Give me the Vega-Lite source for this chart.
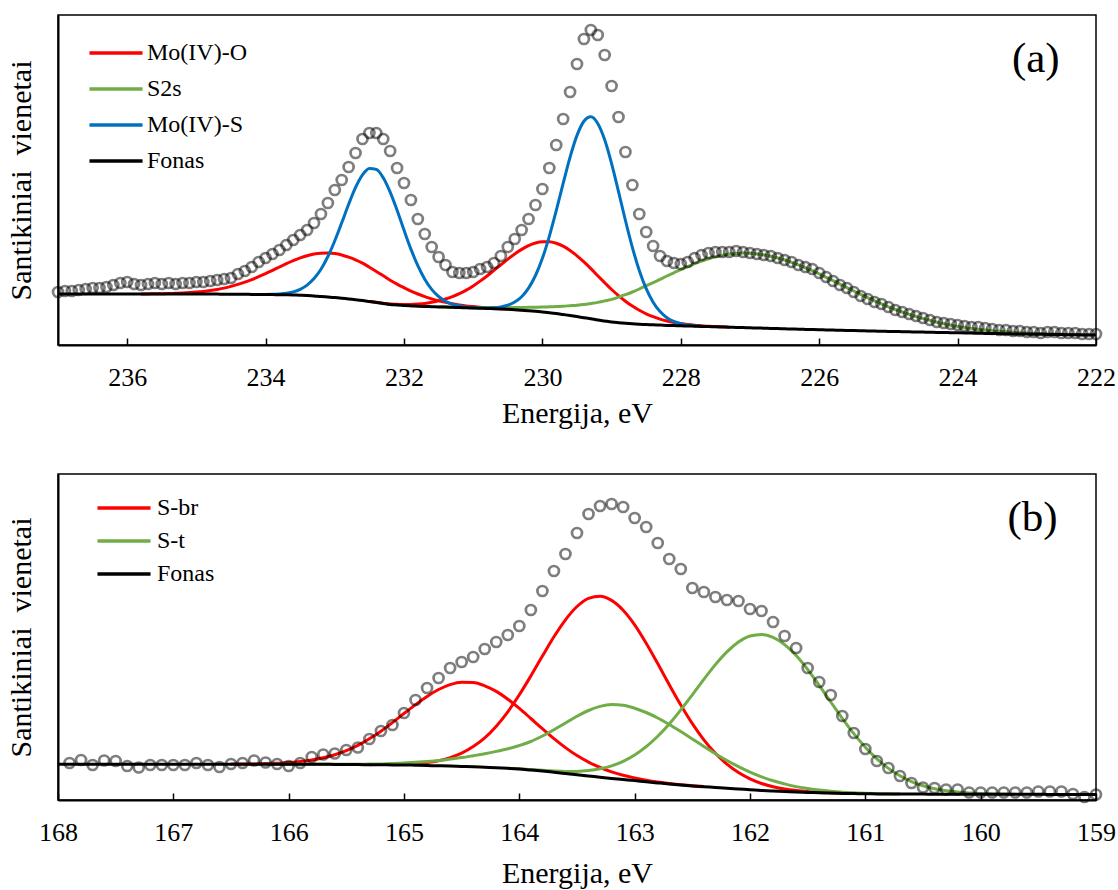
{
"$schema": "https://vega.github.io/schema/vega-lite/v6.json",
"background": "white",
"padding": {"left": 5, "top": 14, "right": 2, "bottom": 2},
"spacing": 44,
"config": {
  "font": "Liberation Serif",
  "view": {"stroke": "black", "strokeWidth": 1.5},
  "axis": {"grid": false, "labelFont": "Liberation Serif", "titleFont": "Liberation Serif", "labelColor": "black", "titleColor": "black", "titleFontWeight": "normal", "domainColor": "black", "tickColor": "black"},
  "axisX": {"labelFont": "Liberation Serif", "titleFont": "Liberation Serif", "tickSize": -7, "tickWidth": 1.5, "domainWidth": 2, "labelFontSize": 26, "labelPadding": 26, "labelFlush": false, "labelOverlap": false, "labelBound": false, "titleFontSize": 30, "titlePadding": 8, "format": "d"},
  "axisY": {"titleFont": "Liberation Serif", "labels": false, "ticks": false, "domainWidth": 2, "titleFontSize": 30, "titlePadding": 22},
  "legend": {"orient": "none", "title": null, "symbolType": "M-4,0H4", "symbolSize": 176, "symbolStrokeWidth": 3.5, "labelFont": "Liberation Serif", "labelFontSize": 24, "labelColor": "black", "padding": 0}
},
"resolve": {"scale": {"color": "independent"}, "legend": {"color": "independent"}},
"vconcat": [
{
  "width": 1038, "height": 330,
  "data": {"values": [
{"E":237,"d":53,"k":51},
{"E":236.9,"d":54,"k":51},
{"E":236.8,"d":54,"k":51},
{"E":236.7,"d":55,"k":51},
{"E":236.6,"d":56,"k":51},
{"E":236.5,"d":57,"k":51},
{"E":236.4,"d":57,"k":51},
{"E":236.3,"d":58,"k":51},
{"E":236.2,"d":60,"k":51},
{"E":236.1,"d":62,"k":51},
{"E":236,"d":63,"k":51},
{"E":235.9,"d":61,"k":51},
{"E":235.8,"d":60,"k":51,"r1":51},
{"E":235.7,"d":61,"k":51,"r1":51.1},
{"E":235.6,"d":62,"k":51,"r1":51.2},
{"E":235.5,"d":61,"k":51,"r1":51.3},
{"E":235.4,"d":62,"k":51,"r1":51.5},
{"E":235.3,"d":61,"k":51,"r1":51.7},
{"E":235.2,"d":62,"k":51,"r1":52},
{"E":235.1,"d":62,"k":51,"r1":52.4},
{"E":235,"d":63,"k":51,"r1":52.9},
{"E":234.9,"d":63,"k":51,"r1":53.6},
{"E":234.8,"d":64,"k":50.9,"r1":54.5},
{"E":234.7,"d":65,"k":50.9,"r1":55.6},
{"E":234.6,"d":66,"k":50.8,"r1":56.9},
{"E":234.5,"d":67,"k":50.8,"r1":58.6},
{"E":234.4,"d":71,"k":50.7,"r1":60.6},
{"E":234.3,"d":74,"k":50.7,"r1":62.9},
{"E":234.2,"d":78,"k":50.6,"r1":65.4},
{"E":234.1,"d":83,"k":50.6,"r1":68.4},
{"E":234,"d":87,"k":50.5,"r1":71.4,"b1":50.6},
{"E":233.9,"d":91,"k":50.4,"r1":74.7,"b1":50.7},
{"E":233.8,"d":95,"k":50.3,"r1":78,"b1":51.1},
{"E":233.7,"d":100,"k":50.2,"r1":81.3,"b1":51.8},
{"E":233.6,"d":105,"k":50,"r1":84.3,"b1":53.1},
{"E":233.5,"d":110,"k":49.8,"r1":87.1,"b1":55.7},
{"E":233.4,"d":115,"k":49.5,"r1":89.3,"b1":59.9},
{"E":233.3,"d":122,"k":49.1,"r1":90.9,"b1":66.4},
{"E":233.2,"d":131,"k":48.5,"r1":91.7,"b1":75.7},
{"E":233.1,"d":142,"k":48,"r1":91.9,"b1":88.5},
{"E":233,"d":155,"k":47.5,"r1":91.4,"b1":104.3},
{"E":232.9,"d":165,"k":46.8,"r1":90,"b1":122.2},
{"E":232.8,"d":178,"k":46,"r1":87.8,"b1":140.7},
{"E":232.7,"d":192,"k":45.3,"r1":85.1,"b1":157.6},
{"E":232.6,"d":206,"k":44.5,"r1":81.8,"b1":170.2},
{"E":232.5,"d":212,"k":43.5,"r1":77.8,"b1":176.6,"r2":43.6},
{"E":232.4,"d":212,"k":42.5,"r1":73.6,"b1":175.6,"r2":42.7},
{"E":232.3,"d":206,"k":41.5,"r1":69.2,"b1":167.2,"r2":41.8},
{"E":232.2,"d":194,"k":40.5,"r1":64.8,"b1":152.8,"r2":40.9},
{"E":232.1,"d":177,"k":40,"r1":60.9,"b1":134.7,"r2":40.7},
{"E":232,"d":162,"k":39.5,"r1":57.3,"b1":114.9,"r2":40.5},
{"E":231.9,"d":145,"k":39.1,"r1":53.9,"b1":95.9,"r2":40.6},
{"E":231.8,"d":126,"k":38.8,"r1":51,"b1":79.3,"r2":41},
{"E":231.7,"d":111,"k":38.5,"r1":48.4,"b1":65.7,"r2":41.6},
{"E":231.6,"d":98,"k":38.3,"r1":46.1,"b1":55.6,"r2":42.7},
{"E":231.5,"d":88,"k":38.1,"r1":44.2,"b1":48.5,"r2":44.1,"g":38.2},
{"E":231.4,"d":80,"k":37.9,"r1":42.6,"b1":43.8,"r2":46,"g":38.1},
{"E":231.3,"d":73,"k":37.7,"r1":41.3,"b1":40.8,"r2":48.4,"g":37.9},
{"E":231.2,"d":72,"k":37.5,"r1":40.1,"b1":39.1,"r2":51.4,"g":37.8},
{"E":231.1,"d":72,"k":37.2,"r1":39.1,"b1":38,"r2":54.9,"g":37.6},
{"E":231,"d":73,"k":37,"r1":38.4,"b1":37.3,"r2":59.1,"g":37.5},
{"E":230.9,"d":76,"k":36.8,"r1":37.8,"b1":36.9,"r2":63.9,"g":37.5,"b2":37},
{"E":230.8,"d":78,"k":36.5,"r1":37.2,"r2":69,"g":37.4,"b2":37},
{"E":230.7,"d":82,"k":36.3,"r1":36.8,"r2":74.6,"g":37.5,"b2":37.3},
{"E":230.6,"d":89,"k":36,"r1":36.3,"r2":80.2,"g":37.5,"b2":38.1},
{"E":230.5,"d":98,"k":35.7,"r1":35.9,"r2":85.9,"g":37.5,"b2":39.8},
{"E":230.4,"d":106,"k":35.3,"r1":35.4,"r2":91.1,"g":37.5,"b2":43},
{"E":230.3,"d":115,"k":34.8,"r2":95.6,"g":37.5,"b2":48.3},
{"E":230.2,"d":126,"k":34.3,"r2":99.4,"g":37.7,"b2":56.9},
{"E":230.1,"d":140,"k":33.7,"r2":102,"g":37.8,"b2":69.5},
{"E":230,"d":156,"k":33,"r2":103.3,"g":37.9,"b2":86.7},
{"E":229.9,"d":177,"k":32.3,"r2":103.3,"g":38.2,"b2":108.7},
{"E":229.8,"d":200,"k":31.5,"r2":101.8,"g":38.5,"b2":134.3},
{"E":229.7,"d":226,"k":30.5,"r2":98.8,"g":38.8,"b2":161.6},
{"E":229.6,"d":253,"k":29.5,"r2":94.6,"g":39.3,"b2":187.9},
{"E":229.5,"d":281,"k":28.4,"r2":89.2,"g":39.8,"b2":209.6},
{"E":229.4,"d":306,"k":27.3,"r2":83.1,"g":40.5,"b2":223.8},
{"E":229.3,"d":315,"k":26.2,"r2":76.4,"g":41.5,"b2":228.2},
{"E":229.2,"d":310,"k":25,"r2":69.2,"g":42.6,"b2":221.5},
{"E":229.1,"d":290,"k":24,"r2":62.3,"g":44.1,"b2":205.2},
{"E":229,"d":259,"k":23,"r2":55.5,"g":45.6,"b2":181.4},
{"E":228.9,"d":228,"k":22.3,"r2":49.4,"g":47.9,"b2":153.4},
{"E":228.8,"d":193,"k":21.7,"r2":43.8,"g":50.3,"b2":124.5},
{"E":228.7,"d":160,"k":21.2,"r2":38.9,"g":53,"b2":97.6},
{"E":228.6,"d":131,"k":20.8,"r2":34.7,"g":56,"b2":74.5},
{"E":228.5,"d":113,"k":20.5,"r2":31.2,"g":59.2,"b2":56.3},
{"E":228.4,"d":99,"k":20.2,"r2":28.3,"g":62.3,"b2":42.8},
{"E":228.3,"d":89,"k":19.9,"r2":25.9,"g":65.6,"b2":33.4},
{"E":228.2,"d":84,"k":19.6,"r2":24,"g":69,"b2":27.3},
{"E":228.1,"d":82,"k":19.4,"r2":22.5,"g":72.2,"b2":23.5},
{"E":228,"d":81,"k":19.2,"r2":21.4,"g":75.4,"b2":21.3},
{"E":227.9,"d":83,"k":19,"r2":20.5,"g":78.4,"b2":20},
{"E":227.8,"d":87,"k":18.8,"r2":19.8,"g":81.3,"b2":19.3},
{"E":227.7,"d":90,"k":18.6,"r2":19.3,"g":83.9,"b2":18.8},
{"E":227.6,"d":92,"k":18.4,"r2":18.8,"g":86.2},
{"E":227.5,"d":93,"k":18.2,"r2":18.5,"g":88.1},
{"E":227.4,"d":93,"k":18,"r2":18.2,"g":89.7},
{"E":227.3,"d":93,"k":17.8,"r2":17.8,"g":90.9},
{"E":227.2,"d":94,"k":17.6,"g":91.6},
{"E":227.1,"d":93,"k":17.4,"g":91.9},
{"E":227,"d":92,"k":17.2,"g":91.7},
{"E":226.9,"d":91,"k":17,"g":91.1},
{"E":226.8,"d":90,"k":16.8,"g":90.1},
{"E":226.7,"d":89,"k":16.6,"g":88.7},
{"E":226.6,"d":87,"k":16.4,"g":87},
{"E":226.5,"d":85,"k":16.2,"g":85},
{"E":226.4,"d":83,"k":16,"g":82.7},
{"E":226.3,"d":80,"k":15.8,"g":80.1},
{"E":226.2,"d":78,"k":15.6,"g":77.2},
{"E":226.1,"d":76,"k":15.5,"g":74.3},
{"E":226,"d":72,"k":15.3,"g":71.1},
{"E":225.9,"d":68,"k":15.1,"g":67.7},
{"E":225.8,"d":64,"k":14.9,"g":64.3},
{"E":225.7,"d":60,"k":14.8,"g":60.8},
{"E":225.6,"d":57,"k":14.6,"g":57.4},
{"E":225.5,"d":53,"k":14.4,"g":54},
{"E":225.4,"d":49,"k":14.2,"g":50.6},
{"E":225.3,"d":46,"k":14.1,"g":47.4},
{"E":225.2,"d":43,"k":13.9,"g":44.2},
{"E":225.1,"d":41,"k":13.8,"g":41.2},
{"E":225,"d":38,"k":13.6,"g":38.2},
{"E":224.9,"d":35,"k":13.5,"g":35.5},
{"E":224.8,"d":33,"k":13.3,"g":33},
{"E":224.7,"d":31,"k":13.2,"g":30.6},
{"E":224.6,"d":29,"k":13,"g":28.4},
{"E":224.5,"d":27,"k":12.9,"g":26.4},
{"E":224.4,"d":25,"k":12.8,"g":24.6},
{"E":224.3,"d":23,"k":12.6,"g":22.8},
{"E":224.2,"d":22,"k":12.5,"g":21.3},
{"E":224.1,"d":21,"k":12.3,"g":19.8},
{"E":224,"d":20,"k":12.2,"g":18.6},
{"E":223.9,"d":19,"k":12.1,"g":17.6},
{"E":223.8,"d":18,"k":11.9,"g":16.5},
{"E":223.7,"d":18,"k":11.8,"g":15.7},
{"E":223.6,"d":17,"k":11.6,"g":14.9},
{"E":223.5,"d":16,"k":11.5,"g":14.2},
{"E":223.4,"d":15,"k":11.4,"g":13.7},
{"E":223.3,"d":15,"k":11.3,"g":13.2},
{"E":223.2,"d":14,"k":11.1,"g":12.7},
{"E":223.1,"d":14,"k":11,"g":12.3},
{"E":223,"d":13,"k":10.9,"g":12},
{"E":222.9,"d":13,"k":10.8,"g":11.7},
{"E":222.8,"d":12,"k":10.7,"g":11.4},
{"E":222.7,"d":13,"k":10.6,"g":11.2},
{"E":222.6,"d":13,"k":10.5,"g":11},
{"E":222.5,"d":12,"k":10.4,"g":10.8},
{"E":222.4,"d":12,"k":10.3,"g":10.6},
{"E":222.3,"d":12,"k":10.2,"g":10.4},
{"E":222.2,"d":11,"k":10.1,"g":10.3},
{"E":222.1,"d":11,"k":10.05,"g":10.2},
{"E":222,"d":11,"k":10,"g":10.1}
  ]},
  "layer": [
    {
      "transform": [{"fold": ["r1", "r2", "g", "b1", "b2", "k"], "as": ["key", "value"]}],
      "mark": {"type": "line", "strokeWidth": 3, "interpolate": "monotone"},
      "encoding": {
        "x": {"field": "E", "type": "quantitative", "title": "Energija, eV", "scale": {"domain": [222, 237], "reverse": true, "nice": false, "zero": false}, "axis": {"values": [222, 224, 226, 228, 230, 232, 234, 236], "format": "d", "labelFont": "Liberation Serif", "titleFont": "Liberation Serif", "labelFontSize": 26, "titleFontSize": 30}},
        "y": {"field": "value", "type": "quantitative", "title": "Santikiniai\u00a0 vienetai", "scale": {"domain": [0, 330], "nice": false, "zero": false}, "axis": {"titleFont": "Liberation Serif", "titleFontSize": 30, "labels": false, "ticks": false}},
        "color": {"field": "key", "type": "nominal",
          "scale": {"domain": ["r1", "r2", "g", "b1", "b2", "k"], "range": ["#FF0000", "#FF0000", "#70AD47", "#0070C0", "#0070C0", "#000000"]},
          "legend": {"values": ["r1", "g", "b1", "k"], "labelExpr": "datum.label == 'r1' ? 'Mo(IV)-O' : datum.label == 'g' ? 'S2s' : datum.label == 'b1' ? 'Mo(IV)-S' : 'Fonas'", "legendX": 46, "legendY": 26, "rowPadding": 12, "labelOffset": 19}}
      }
    },
    {
      "mark": {"type": "point", "shape": "circle", "filled": false, "size": 100, "strokeWidth": 2.7, "color": "#000000", "opacity": 0.5},
      "encoding": {
        "x": {"field": "E", "type": "quantitative", "title": "Energija, eV"},
        "y": {"field": "d", "type": "quantitative", "title": "Santikiniai\u00a0 vienetai"}
      }
    },
    {
      "data": {"values": [{"E": 222.87, "v": 286, "t": "(a)"}]},
      "mark": {"type": "text", "font": "Liberation Serif", "fontSize": 43, "align": "center", "baseline": "middle", "color": "black"},
      "encoding": {
        "x": {"field": "E", "type": "quantitative", "title": "Energija, eV"},
        "y": {"field": "v", "type": "quantitative", "title": "Santikiniai\u00a0 vienetai"},
        "text": {"field": "t"}
      }
    }
  ]
},
{
  "width": 1038, "height": 326,
  "data": {"values": [
{"E":168,"f":35.8},
{"E":167.9,"d":37,"f":35.8},
{"E":167.8,"d":40,"f":35.8},
{"E":167.7,"d":35,"f":35.8},
{"E":167.6,"d":39.5,"f":35.8},
{"E":167.5,"d":39,"f":35.8},
{"E":167.4,"d":34,"f":35.8},
{"E":167.3,"d":32.5,"f":35.8},
{"E":167.2,"d":35,"f":35.8},
{"E":167.1,"d":35,"f":35.8},
{"E":167,"d":35,"f":35.8},
{"E":166.9,"d":35,"f":35.8},
{"E":166.8,"d":37,"f":35.8},
{"E":166.7,"d":35,"f":35.8},
{"E":166.6,"d":33,"f":35.8},
{"E":166.5,"d":36,"f":35.8,"s1":35.9},
{"E":166.4,"d":37,"f":35.8,"s1":36},
{"E":166.3,"d":39.5,"f":35.8,"s1":36.1},
{"E":166.2,"d":37.5,"f":35.8,"s1":36.4,"t1":35.8},
{"E":166.1,"d":36,"f":35.8,"s1":36.8,"t1":35.8},
{"E":166,"d":34,"f":35.8,"s1":37.4,"t1":35.8},
{"E":165.9,"d":37,"f":35.8,"s1":38.5,"t1":35.8},
{"E":165.8,"d":43,"f":35.7,"s1":40,"t1":35.75},
{"E":165.7,"d":45.5,"f":35.7,"s1":42.2,"t1":35.8},
{"E":165.6,"d":46.5,"f":35.6,"s1":45.3,"t1":35.75},
{"E":165.5,"d":50,"f":35.5,"s1":49.4,"t1":35.75},
{"E":165.4,"d":52.5,"f":35.4,"s1":54.6,"t1":35.8},
{"E":165.3,"d":61,"f":35.3,"s1":61.2,"s2":35.3,"t1":35.9},
{"E":165.2,"d":69,"f":35.2,"s1":68.8,"s2":35.5,"t1":36.1},
{"E":165.1,"d":75,"f":35.1,"s1":77.4,"s2":35.6,"t1":36.5},
{"E":165,"d":87,"f":35,"s1":86.5,"s2":35.9,"t1":37.1},
{"E":164.9,"d":100,"f":34.8,"s1":95.4,"s2":36.5,"t1":37.7},
{"E":164.8,"d":112,"f":34.5,"s1":103.6,"s2":37.5,"t1":38.5},
{"E":164.7,"d":122,"f":34.2,"s1":110.5,"s2":39.3,"t1":39.5},
{"E":164.6,"d":132,"f":34,"s1":115.4,"s2":42.4,"t1":40.9},
{"E":164.5,"d":138,"f":33.6,"s1":117.8,"s2":46.8,"t1":42.4},
{"E":164.4,"d":143,"f":33.3,"s1":117.5,"s2":53.4,"t1":44.3},
{"E":164.3,"d":151,"f":32.8,"s1":114.2,"s2":62.1,"t1":46.3},
{"E":164.2,"d":158,"f":32.3,"s1":108.6,"s2":73.8,"t1":48.6},
{"E":164.1,"d":165,"f":31.7,"s1":100.8,"s2":88.2,"t1":51.2,"t2":31.7},
{"E":164,"d":174,"f":31,"s1":91.6,"s2":105.2,"t1":54.5,"t2":31.2},
{"E":163.9,"d":190,"f":30,"s1":81.5,"s2":124.1,"t1":58.5,"t2":30.4},
{"E":163.8,"d":209,"f":29,"s1":71.3,"s2":143.9,"t1":64,"t2":29.7},
{"E":163.7,"d":229,"f":27.8,"s1":61.4,"s2":163.2,"t1":70.3,"t2":29},
{"E":163.6,"d":246,"f":26.5,"s1":52.4,"s2":180.2,"t1":77,"t2":28.6},
{"E":163.5,"d":267,"f":25.2,"s1":44.4,"s2":193.5,"t1":83.7,"t2":28.6},
{"E":163.4,"d":286,"f":24,"s1":37.9,"s2":201.7,"t1":89.5,"t2":29.4},
{"E":163.3,"d":294,"f":22.8,"s1":32.5,"s2":203.8,"t1":93.6,"t2":31.2},
{"E":163.2,"d":296,"f":21.6,"s1":28.1,"s2":199.6,"t1":95.4,"t2":34.1},
{"E":163.1,"d":293,"f":20.5,"s1":24.8,"s2":189.8,"t1":94.7,"t2":38.7},
{"E":163,"d":282,"f":19.4,"s1":22.1,"s2":175.2,"t1":91.8,"t2":45},
{"E":162.9,"d":273,"f":18.2,"s1":19.8,"s2":156.8,"t1":87.5,"t2":53.3},
{"E":162.8,"d":257,"f":17.1,"s1":18.1,"s2":136.4,"t1":82,"t2":63.7},
{"E":162.7,"d":241,"f":16,"s1":16.6,"s2":115.3,"t1":75.5,"t2":76},
{"E":162.6,"d":231,"f":15,"s1":15.3,"s2":95,"t1":68.4,"t2":90.1},
{"E":162.5,"d":212,"f":14.1,"s1":14.3,"s2":76.4,"t1":61,"t2":105.2},
{"E":162.4,"d":208,"f":13.3,"s1":13.4,"s2":60.2,"t1":53.6,"t2":120.7},
{"E":162.3,"d":203,"f":12.5,"s2":46.7,"t1":46.3,"t2":135.4},
{"E":162.2,"d":200,"f":11.7,"s2":35.8,"t1":39.5,"t2":148.1},
{"E":162.1,"d":199,"f":11,"s2":27.4,"t1":33.4,"t2":157.9},
{"E":162,"d":191,"f":10.3,"s2":21.1,"t1":27.9,"t2":164},
{"E":161.9,"d":189,"f":9.6,"s2":16.5,"t1":23.2,"t2":165.6},
{"E":161.8,"d":178,"f":9,"s2":13.3,"t1":19.2,"t2":162.7},
{"E":161.7,"d":164,"f":8.5,"s2":11,"t1":16.1,"t2":155.4},
{"E":161.6,"d":152,"f":8,"s2":9.5,"t1":13.4,"t2":144.4},
{"E":161.5,"d":132,"f":7.6,"s2":8.4,"t1":11.5,"t2":130.5},
{"E":161.4,"d":118,"f":7.2,"s2":7.6,"t1":9.9,"t2":114.6},
{"E":161.3,"d":105,"f":6.9,"s2":7.1,"t1":8.7,"t2":98},
{"E":161.2,"d":84,"f":6.6,"s2":6.7,"t1":7.8,"t2":81.7},
{"E":161.1,"d":67,"f":6.4,"t1":7.2,"t2":66.4},
{"E":161,"d":51,"f":6.2,"t1":6.7,"t2":52.8},
{"E":160.9,"d":39,"f":6.1,"t1":6.4,"t2":41.2},
{"E":160.8,"d":32,"f":6,"t1":6.2,"t2":31.6},
{"E":160.7,"d":24,"f":6,"t1":6,"t2":24.2},
{"E":160.6,"d":17,"f":5.9,"t2":18.4},
{"E":160.5,"d":12.5,"f":5.9,"t2":14.3},
{"E":160.4,"d":12,"f":5.8,"t2":11.2},
{"E":160.3,"d":10.5,"f":5.8,"t2":9.2},
{"E":160.2,"d":10.5,"f":5.8,"t2":7.9},
{"E":160.1,"d":7.5,"f":5.8,"t2":7},
{"E":160,"d":7.5,"f":5.7,"t2":6.4},
{"E":159.9,"d":7.5,"f":5.7,"t2":6.1},
{"E":159.8,"d":7.5,"f":5.7,"t2":5.9},
{"E":159.7,"d":7.5,"f":5.7,"t2":5.7},
{"E":159.6,"d":7.5,"f":5.7},
{"E":159.5,"d":8.5,"f":5.7},
{"E":159.4,"d":8.5,"f":5.6},
{"E":159.3,"d":8.5,"f":5.6},
{"E":159.2,"d":6,"f":5.6},
{"E":159.1,"d":3,"f":5.6},
{"E":159,"d":5.5,"f":5.6}
  ]},
  "layer": [
    {
      "transform": [{"fold": ["s1", "s2", "t1", "t2", "f"], "as": ["key", "value"]}],
      "mark": {"type": "line", "strokeWidth": 3, "interpolate": "monotone"},
      "encoding": {
        "x": {"field": "E", "type": "quantitative", "title": "Energija, eV", "scale": {"domain": [159, 168], "reverse": true, "nice": false, "zero": false}, "axis": {"values": [159, 160, 161, 162, 163, 164, 165, 166, 167, 168], "format": "d", "labelFont": "Liberation Serif", "titleFont": "Liberation Serif", "labelFontSize": 26, "titleFontSize": 30, "titlePadding": 13}},
        "y": {"field": "value", "type": "quantitative", "title": "Santikiniai\u00a0 vienetai", "scale": {"domain": [0, 326], "nice": false, "zero": false}, "axis": {"titleFont": "Liberation Serif", "titleFontSize": 30, "labels": false, "ticks": false}},
        "color": {"field": "key", "type": "nominal",
          "scale": {"domain": ["s1", "s2", "t1", "t2", "f"], "range": ["#FF0000", "#FF0000", "#70AD47", "#70AD47", "#000000"]},
          "legend": {"values": ["s1", "t1", "f"], "labelExpr": "datum.label == 's1' ? 'S-br' : datum.label == 't1' ? 'S-t' : 'Fonas'", "legendX": 54, "legendY": 22, "rowPadding": 9, "labelOffset": 21}}
      }
    },
    {
      "mark": {"type": "point", "shape": "circle", "filled": false, "size": 100, "strokeWidth": 2.7, "color": "#000000", "opacity": 0.5},
      "encoding": {
        "x": {"field": "E", "type": "quantitative", "title": "Energija, eV"},
        "y": {"field": "d", "type": "quantitative", "title": "Santikiniai\u00a0 vienetai"}
      }
    },
    {
      "data": {"values": [{"E": 159.55, "v": 282, "t": "(b)"}]},
      "mark": {"type": "text", "font": "Liberation Serif", "fontSize": 43, "align": "center", "baseline": "middle", "color": "black"},
      "encoding": {
        "x": {"field": "E", "type": "quantitative", "title": "Energija, eV"},
        "y": {"field": "v", "type": "quantitative", "title": "Santikiniai\u00a0 vienetai"},
        "text": {"field": "t"}
      }
    }
  ]
}
]
}
